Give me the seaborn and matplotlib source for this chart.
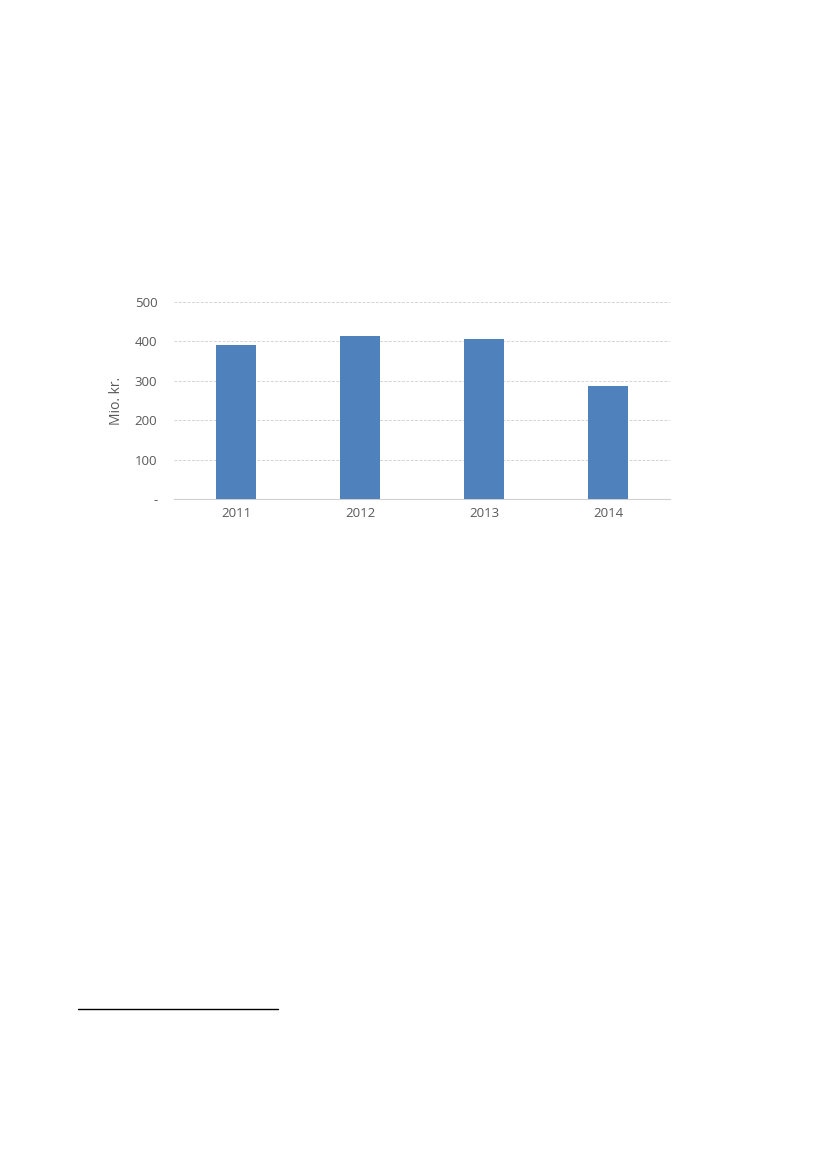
import matplotlib
matplotlib.use("Agg")
import matplotlib.pyplot as plt
from matplotlib.lines import Line2D
import seaborn as sns
import pandas as pd

years = ["2011", "2012", "2013", "2014"]
values = [392, 414, 407, 288]
ytick_vals = [0, 100, 200, 300, 400, 500]
ytick_labels = ["-", "100", "200", "300", "400", "500"]

sns.set_style("white")
plt.rcParams["font.family"] = ["Open Sans", "DejaVu Sans"]

dades = pd.DataFrame({"year": years, "value": values})

fig = plt.figure(figsize=(8.27, 11.69), dpi=100)
ax = fig.add_axes([0.2104, 0.5731, 0.5996, 0.1686])
sns.barplot(data=dades, x="year", y="value", color="#4F81BD", width=0.32,
            saturation=1, linewidth=0, ax=ax, zorder=3)

ax.set_ylim(0, 500)
ax.set_xlim(-0.5, 3.5)
ax.set_yticks(ytick_vals)
ax.set_yticklabels(ytick_labels)
ax.yaxis.grid(True, linestyle=(0, (3, 1.5)), color="#d4d4d4", linewidth=0.7, zorder=0)
ax.xaxis.grid(False)
for s in ["top", "right", "left"]:
    ax.spines[s].set_visible(False)
ax.spines["bottom"].set_color("#d0d0d0")
ax.spines["bottom"].set_linewidth(0.8)
ax.tick_params(axis="both", length=0, labelsize=9.5, colors="#595959")
ax.tick_params(axis="y", pad=12)
ax.tick_params(axis="x", pad=6)
ax.set_xlabel("")
ax.set_ylabel("Mio. kr.", fontsize=10, color="#595959", labelpad=8)

fig.add_artist(Line2D([78 / 827, 278 / 827], [1 - 1009 / 1169, 1 - 1009 / 1169],
                      color="black", linewidth=1))

fig.savefig("out.png", dpi=100)
